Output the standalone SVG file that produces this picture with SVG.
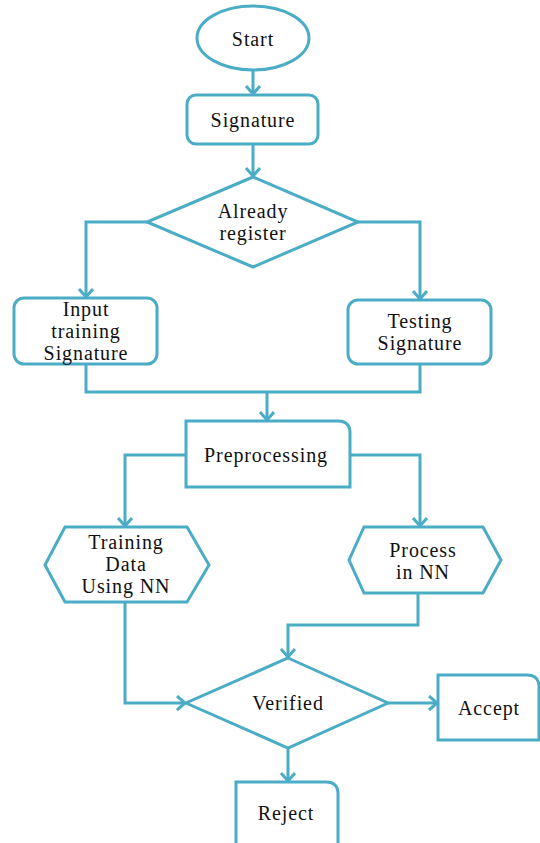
<svg xmlns="http://www.w3.org/2000/svg" width="540" height="843" viewBox="0 0 540 843">
<style>
.s{fill:#fff;stroke:#4bacc6;stroke-width:3;stroke-linejoin:miter}
.c{fill:none;stroke:#4bacc6;stroke-width:3}
.t{font-family:"Liberation Serif","Times New Roman",serif;font-size:20px;letter-spacing:0.9px;fill:#111;text-anchor:middle}
</style>
<defs>
<marker id="ah" markerUnits="userSpaceOnUse" markerWidth="12" markerHeight="18" refX="9" refY="8" orient="auto">
<path d="M1,1 L9,8 L1,15" fill="none" stroke="#4bacc6" stroke-width="3"/>
</marker>
</defs>
<rect width="540" height="843" fill="#fff"/>
<g id="connectors">
<path class="c" d="M253,70 L253,94" marker-end="url(#ah)"/>
<path class="c" d="M253,144 L253,176" marker-end="url(#ah)"/>
<path class="c" d="M147,222 L86,222 L86,297" marker-end="url(#ah)"/>
<path class="c" d="M358,222 L420,222 L420,299" marker-end="url(#ah)"/>
<path class="c" d="M86,364 L86,392 L420,392 L420,364"/>
<path class="c" d="M267,392 L267,420" marker-end="url(#ah)"/>
<path class="c" d="M186,455 L125,455 L125,526" marker-end="url(#ah)"/>
<path class="c" d="M350,455 L420,455 L420,526" marker-end="url(#ah)"/>
<path class="c" d="M125,602 L125,703 L185,703" marker-end="url(#ah)"/>
<path class="c" d="M418,593 L418,625 L288,625 L288,657" marker-end="url(#ah)"/>
<path class="c" d="M388,703 L437,703" marker-end="url(#ah)"/>
<path class="c" d="M288,748 L288,781" marker-end="url(#ah)"/>
</g>
<g id="start">
<ellipse class="s" cx="253" cy="38" rx="56" ry="32"/>
<text class="t" x="253" y="46">Start</text>
</g>
<g id="signature">
<rect class="s" x="187" y="95" width="131" height="49" rx="9"/>
<text class="t" x="253" y="127">Signature</text>
</g>
<g id="already">
<polygon class="s" points="253,177 358,222 253,267 147,222"/>
<text class="t" x="253" y="218">Already</text>
<text class="t" x="253" y="240">register</text>
</g>
<g id="input">
<rect class="s" x="14" y="298" width="143" height="66" rx="10"/>
<text class="t" x="86" y="316">Input</text>
<text class="t" x="86" y="338">training</text>
<text class="t" x="86" y="360">Signature</text>
</g>
<g id="testing">
<rect class="s" x="348" y="300" width="143" height="64" rx="10"/>
<text class="t" x="420" y="328">Testing</text>
<text class="t" x="420" y="350">Signature</text>
</g>
<g id="preprocessing">
<path class="s" d="M186,421 L338,421 Q350,421 350,433 L350,487 L186,487 Z"/>
<text class="t" x="266" y="462">Preprocessing</text>
</g>
<g id="training">
<polygon class="s" points="45,565 65,527 187,527 209,565 187,602 65,602"/>
<text class="t" x="126" y="549">Training</text>
<text class="t" x="126" y="571">Data</text>
<text class="t" x="126" y="593">Using NN</text>
</g>
<g id="process">
<polygon class="s" points="349,560 364,527 483,527 501,560 483,593 364,593"/>
<text class="t" x="423" y="557">Process</text>
<text class="t" x="423" y="579">in NN</text>
</g>
<g id="verified">
<polygon class="s" points="288,658 388,703 288,748 186,703"/>
<text class="t" x="288" y="710">Verified</text>
</g>
<g id="accept">
<path class="s" d="M438,675 L527,675 Q539,675 539,687 L539,740 L438,740 Z"/>
<text class="t" x="489" y="715">Accept</text>
</g>
<g id="reject">
<path class="s" d="M236,782 L326,782 Q338,782 338,794 L338,846 L236,846 Z"/>
<text class="t" x="286" y="820">Reject</text>
</g>
</svg>
